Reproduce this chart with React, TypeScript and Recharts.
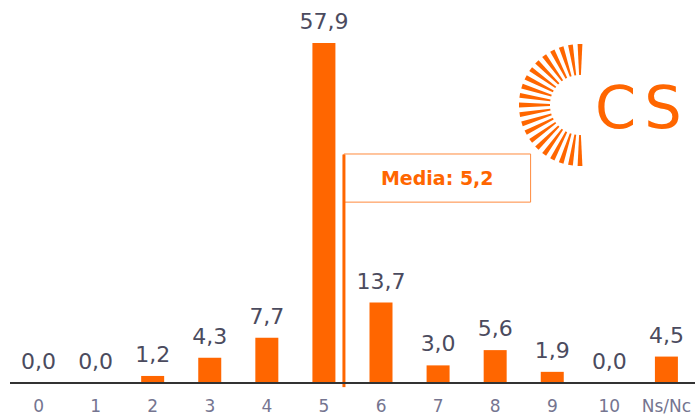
import React from "react";
import {
  ComposedChart,
  Bar,
  Line,
  XAxis,
  YAxis,
  LabelList,
  ReferenceLine,
  ReferenceArea,
} from "recharts";

const categories = ["0", "1", "2", "3", "4", "5", "6", "7", "8", "9", "10", "Ns/Nc"];
const values = [0.0, 0.0, 1.2, 4.3, 7.7, 57.9, 13.7, 3.0, 5.6, 1.9, 0.0, 4.5];
const mediaValue = 5.2;
// where the mean marker sits on the category scale in the original
const mediaX = 5.35;

const ORANGE = "#ff6600";
const FONT = "DejaVu Sans";

const data = categories.map((c, i) => ({ idx: i, cat: c, value: values[i] }));

const fmt = (v: number) => v.toFixed(1).replace(".", ",");

function Logo() {
  const cx = 580;
  const cy = 105;
  const rays = [];
  for (let a = 90; a <= 270; a += 9) {
    const t = (a * Math.PI) / 180;
    const n = { x: -Math.sin(t), y: -Math.cos(t) };
    const p = (r: number, w: number) => {
      const x = cx + r * Math.cos(t);
      const y = cy - r * Math.sin(t);
      return [
        [x + n.x * w, y + n.y * w],
        [x - n.x * w, y - n.y * w],
      ];
    };
    const [i1, i2] = p(30, 0.9);
    const [o1, o2] = p(61, 2.4);
    rays.push(
      <polygon
        key={a}
        points={`${i1[0]},${i1[1]} ${o1[0]},${o1[1]} ${o2[0]},${o2[1]} ${i2[0]},${i2[1]}`}
        fill={ORANGE}
      />
    );
  }
  return (
    <svg
      width={697}
      height={418}
      style={{ position: "absolute", left: 0, top: 0, pointerEvents: "none" }}
    >
      {rays}
      <text
        x={595}
        y={128}
        fill={ORANGE}
        fontSize={59}
        fontFamily={FONT}
        letterSpacing={8}
      >
        CS
      </text>
    </svg>
  );
}

export default function App() {
  return (
    <div style={{ position: "absolute", left: 0, top: 0, width: 697, height: 418, background: "#fff" }}>
      <ComposedChart
        width={697}
        height={418}
        data={data}
        margin={{ top: 43, right: 2, left: 10, bottom: 0 }}
      >
        <XAxis
          dataKey="idx"
          type="number"
          domain={[-0.5, 11.5]}
          ticks={categories.map((_, i) => i)}
          tickFormatter={(v: number) => categories[v]}
          interval={0}
          axisLine={{ stroke: "#333", strokeWidth: 2 }}
          tickLine={false}
          height={35}
          tick={{ fill: "#757590", fontSize: 17, fontFamily: FONT }}
          dy={9}
        />
        <YAxis hide domain={[0, 57.9]} />
        <Bar dataKey="value" fill={ORANGE} barSize={23} isAnimationActive={false} />
        <Line
          dataKey="value"
          stroke="none"
          dot={false}
          activeDot={false}
          isAnimationActive={false}
        >
          <LabelList
            dataKey="value"
            position="top"
            offset={14}
            formatter={(v: number) => fmt(v)}
            fill="#4b4b5e"
            fontSize={22}
            fontFamily={FONT}
          />
        </Line>
        <ReferenceArea
          x1={mediaX}
          x2={8.62}
          y1={30.8}
          y2={39}
          fill="#fff"
          fillOpacity={1}
          stroke="#ff8a3d"
          strokeWidth={1}
          ifOverflow="visible"
          label={{
            value: `Media: ${fmt(mediaValue)}`,
            position: "center",
            fill: ORANGE,
            fontSize: 19,
            fontWeight: 700,
            fontFamily: FONT,
          }}
        />
        <ReferenceLine
          segment={[
            { x: mediaX, y: -0.7 },
            { x: mediaX, y: 38.9 },
          ]}
          stroke={ORANGE}
          strokeWidth={3}
          ifOverflow="visible"
        />
      </ComposedChart>
      <Logo />
    </div>
  );
}
